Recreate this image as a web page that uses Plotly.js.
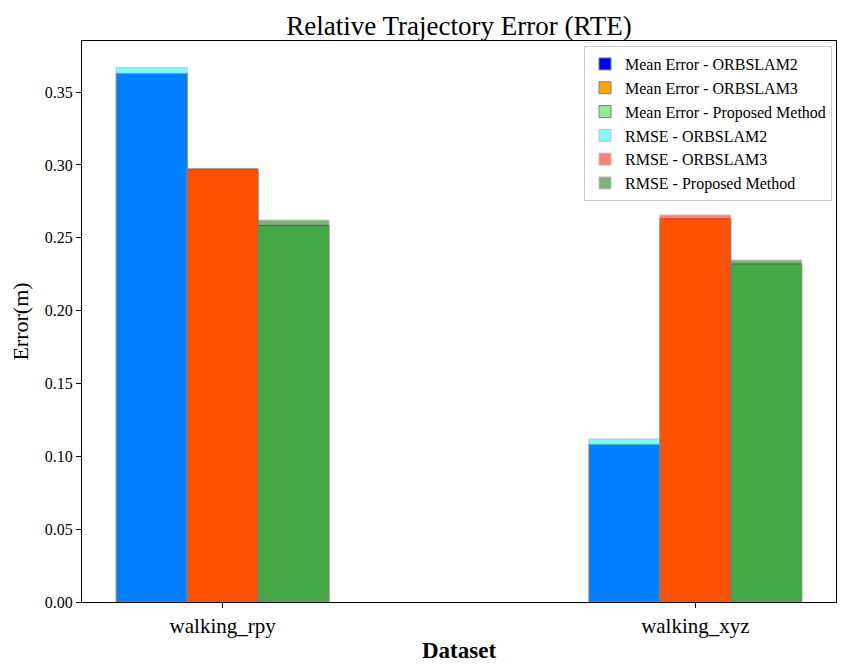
<!DOCTYPE html>
<html>
<head>
<meta charset="utf-8">
<script src="https://cdn.plot.ly/plotly-3.0.1.min.js"></script>
<style>html,body{margin:0;padding:0;background:#fff;}#chart{width:848px;height:672px;}</style>
</head>
<body>
<div id="chart"></div>
<script>
const categories = ["walking_rpy", "walking_xyz"];
const methods = ["ORBSLAM2", "ORBSLAM3", "Proposed Method"];
const meanError = {
  "ORBSLAM2": [0.3628, 0.1082],
  "ORBSLAM3": [0.2971, 0.2630],
  "Proposed Method": [0.2585, 0.2320]
};
const rmse = {
  "ORBSLAM2": [0.3667, 0.1119],
  "ORBSLAM3": [0.2976, 0.2656],
  "Proposed Method": [0.2621, 0.2347]
};
const meanColors = ["#0000FF", "#FFA500", "#90EE90"];
const rmseColors = ["#00FFFF", "#FF0000", "#006400"];
const barWidth = 0.15;

const traces = [];
methods.forEach((m, i) => {
  traces.push({
    type: "bar", name: "Mean Error - " + m, x: categories, y: meanError[m],
    width: barWidth, offset: (i - 1) * barWidth - barWidth / 2,
    marker: {color: meanColors[i], line: {color: "grey", width: 1}},
    hoverinfo: "y"
  });
});
methods.forEach((m, i) => {
  traces.push({
    type: "bar", name: "RMSE - " + m, x: categories, y: rmse[m],
    width: barWidth, offset: (i - 1) * barWidth - barWidth / 2,
    opacity: 0.5,
    marker: {color: rmseColors[i], line: {color: "grey", width: 1}},
    hoverinfo: "y"
  });
});

const maxVal = Math.max(...methods.flatMap(m => rmse[m].concat(meanError[m])));
const font = "Liberation Serif, Times New Roman, serif";

const layout = {
  width: 848, height: 672,
  barmode: "overlay",
  paper_bgcolor: "#fff", plot_bgcolor: "#fff",
  margin: {l: 82, r: 12, t: 41, b: 70},
  font: {family: font, color: "#000"},
  title: {text: "Relative Trajectory Error (RTE)", font: {family: font, size: 27, color: "#000"},
          x: 0.5, xref: "paper", xanchor: "center", y: 1, yref: "paper", yanchor: "bottom", pad: {b: 6}},
  xaxis: {
    type: "category", range: [-0.2975, 1.2975],
    showline: true, linecolor: "#000", linewidth: 1, mirror: true,
    ticks: "outside", ticklen: 5, tickcolor: "#000",
    showgrid: false, zeroline: false,
    tickfont: {family: font, size: 21, color: "#000"},
    title: {text: "<b>Dataset</b>", font: {family: font, size: 23, color: "#000"}, standoff: 4}
  },
  yaxis: {
    range: [0, maxVal * 1.05],
    dtick: 0.05, tick0: 0, tickformat: ".2f",
    showline: true, linecolor: "#000", linewidth: 1, mirror: true,
    ticks: "outside", ticklen: 5, tickcolor: "#000",
    showgrid: false, zeroline: false,
    tickfont: {family: font, size: 16, color: "#000"},
    title: {text: "Error(m)", font: {family: font, size: 22, color: "#000"}, standoff: 10}
  },
  legend: {
    x: 0.9947, y: 0.991, xanchor: "right", yanchor: "top",
    bgcolor: "rgba(255,255,255,0.8)", bordercolor: "#cccccc", borderwidth: 1,
    font: {family: font, size: 16, color: "#000"},
    traceorder: "normal"
  },
  showlegend: true
};

Plotly.newPlot("chart", traces, layout, {displayModeBar: false, staticPlot: true});
</script>
</body>
</html>
